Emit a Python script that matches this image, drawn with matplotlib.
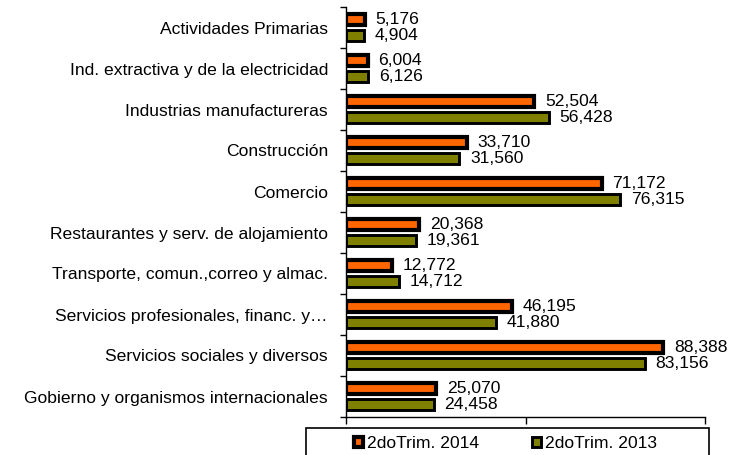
import matplotlib.pyplot as plt
from matplotlib.patches import Rectangle
import numpy as np

plt.rcParams['font.family'] = ['Liberation Sans', 'DejaVu Sans']

categories = [
    'Actividades Primarias',
    'Ind. extractiva y de la electricidad',
    'Industrias manufactureras',
    'Construcción',
    'Comercio',
    'Restaurantes y serv. de alojamiento',
    'Transporte, comun.,correo y almac.',
    'Servicios profesionales, financ. y…',
    'Servicios sociales y diversos',
    'Gobierno y organismos internacionales',
]
trim_2014 = [5176, 6004, 52504, 33710, 71172, 20368, 12772, 46195, 88388, 25070]
trim_2013 = [4904, 6126, 56428, 31560, 76315, 19361, 14712, 41880, 83156, 24458]
series_labels = ['2doTrim. 2014', '2doTrim. 2013']

FS = 12.6

fig = plt.figure(figsize=(7.45, 4.55), dpi=100)
ax = fig.add_axes([346 / 745, 1 - 417 / 455, (705 - 346) / 745, 410 / 455])

y = np.arange(len(categories))
h = 0.28
off = 0.2
b1 = ax.barh(y - off, trim_2014, height=h, color='#FF6600', edgecolor='black',
             linewidth=3.0, label=series_labels[0])
b2 = ax.barh(y + off, trim_2013, height=h, color='#808000', edgecolor='black',
             linewidth=2.1, label=series_labels[1])

# value labels next to each bar
for vals, dy in [(trim_2014, -off), (trim_2013, off)]:
    for i, v in enumerate(vals):
        ax.text(v + 3000, i + dy, f'{v:,}', va='center', ha='left', fontsize=FS)

ax.set_xlim(0, 100000)
ax.set_ylim(len(categories) - 0.5, -0.5)
ax.set_yticks(y)
ax.set_yticklabels(categories, fontsize=FS)
ax.set_yticks(np.arange(len(categories) + 1) - 0.5, minor=True)
ax.tick_params(axis='y', which='major', length=0, pad=13)
ax.tick_params(axis='y', which='minor', length=4.5, width=1, direction='out')
ax.set_xticks([0, 50000, 100000])
ax.set_xticklabels([])
ax.tick_params(axis='x', length=5, width=1, direction='out')

for s in ['top', 'right']:
    ax.spines[s].set_visible(False)
ax.spines['left'].set_linewidth(1)
ax.spines['bottom'].set_linewidth(1)

# legend box runs off the bottom of the figure
fig.patches.append(Rectangle((306 / 745, -0.05), (709 - 306) / 745, 0.05 + 1 - 428 / 455,
                             transform=fig.transFigure, fill=False, edgecolor='black',
                             linewidth=1.2, clip_on=False))
fig.legend(handles=[b1, b2], labels=series_labels, loc='center left',
           bbox_to_anchor=(354 / 745, 1 - 444 / 455), ncol=2, fontsize=FS,
           frameon=False, handlelength=0.5, handleheight=0.5, handletextpad=0.25,
           columnspacing=3.0, borderpad=0, borderaxespad=0)

fig.savefig('out.png', dpi=100)
